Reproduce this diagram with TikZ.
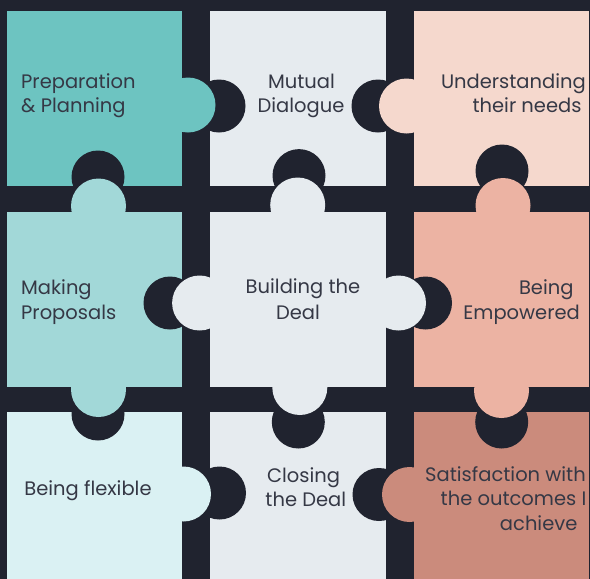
\documentclass[tikz,border=0pt]{standalone}
\usepackage{fontspec}
\setmainfont{Poppins}
\definecolor{bg}{HTML}{20232F}
\definecolor{cA}{HTML}{6DC4C1}
\definecolor{cB}{HTML}{A2D8D8}
\definecolor{cC}{HTML}{DAF1F3}
\definecolor{cG}{HTML}{E6EBEF}
\definecolor{cD}{HTML}{F5D8CD}
\definecolor{cE}{HTML}{ECB3A3}
\definecolor{cF}{HTML}{CB8B7C}
\definecolor{txt}{HTML}{353845}
\begin{document}
\begin{tikzpicture}[x=1pt,y=-1pt,
  lbl/.style={inner sep=0pt,text=txt,font=\fontsize{19.5}{24}\selectfont},
  hole/.style={fill=bg},
]
\useasboundingbox (0,0) rectangle (590,579);
\fill[bg] (0,0) rectangle (590,579);
\begin{scope}
\clip (0,0) rectangle (590,579);
% pieces
\fill[cA] (7,11) rectangle (182,186);
\fill[cG] (210,11) rectangle (386,186);
\fill[cD] (414,11) rectangle (589,186);
\fill[cB] (7,212) rectangle (182,387);
\fill[cG] (210,212) rectangle (386,387);
\fill[cE] (414,212) rectangle (589,387);
\fill[cC] (7,412) rectangle (182,590);
\fill[cG] (210,412) rectangle (386,590);
\fill[cF] (414,412) rectangle (589,590);
% holes
\fill[hole] (219,106) circle (26.5);
\fill[hole] (378,106) circle (26.5);
\fill[hole] (170,303) circle (26.5);
\fill[hole] (425.5,303) circle (26.5);
\fill[hole] (219.5,493) circle (26.5);
\fill[hole] (379,494.5) circle (26.5);
\fill[hole] (98,177) circle (26.5);
\fill[hole] (299,175.6) circle (26.5);
\fill[hole] (502,171) circle (26.5);
\fill[hole] (98,414) circle (26.5);
\fill[hole] (298.3,422) circle (26.5);
\fill[hole] (501.7,422) circle (26.5);
% tabs
\fill[cA] (188,105) circle (27.5);
\fill[cD] (406.5,106) circle (27.5);
\fill[cG] (199.6,303) circle (27.5);
\fill[cG] (398.5,303) circle (27.5);
\fill[cC] (183.5,494) circle (27.5);
\fill[cF] (409.5,494.5) circle (27.5);
\fill[cB] (98.5,206) circle (27.5);
\fill[cG] (297.7,205) circle (27.5);
\fill[cE] (503,205.5) circle (27.5);
\fill[cB] (98.5,389.5) circle (27.5);
\fill[cG] (299.8,387.5) circle (27.5);
\fill[cE] (501.5,390.5) circle (27.5);
\end{scope}
% texts
\node[lbl,anchor=base west] (t11a) at (21,88.3) {Preparation};
\node[lbl,anchor=base west] (t11b) at (21,112.7) {\& Planning};
\node[lbl,anchor=base] (t12a) at (301.5,88.3) {Mutual};
\node[lbl,anchor=base] (t12b) at (301,112.7) {Dialogue};
\node[lbl,anchor=base east] (t13a) at (586,88.3) {Understanding};
\node[lbl,anchor=base east] (t13b) at (581.7,112.7) {their needs};
\node[lbl,anchor=base west] (t21a) at (21,294.3) {Making};
\node[lbl,anchor=base west] (t21b) at (21,319) {Proposals};
\node[lbl,anchor=base] (t22a) at (303,293.8) {Building the};
\node[lbl,anchor=base] (t22b) at (298,319) {Deal};
\node[lbl,anchor=base east] (t23a) at (573.7,294.3) {Being};
\node[lbl,anchor=base east] (t23b) at (580,319) {Empowered};
\node[lbl,anchor=base] (t31a) at (88,495) {Being flexible};
\node[lbl,anchor=base] (t32a) at (303.5,482) {Closing};
\node[lbl,anchor=base] (t32b) at (305.8,506) {the Deal};
\begin{scope}
\clip (0,0) rectangle (590,579);
\node[lbl,anchor=base] (t33a) at (505.5,481.5) {Satisfaction with};
\node[lbl,anchor=base] (t33b) at (513.5,505.8) {the outcomes I};
\node[lbl,anchor=base] (t33c) at (538.7,530) {achieve};
\end{scope}
\end{tikzpicture}
\end{document}
